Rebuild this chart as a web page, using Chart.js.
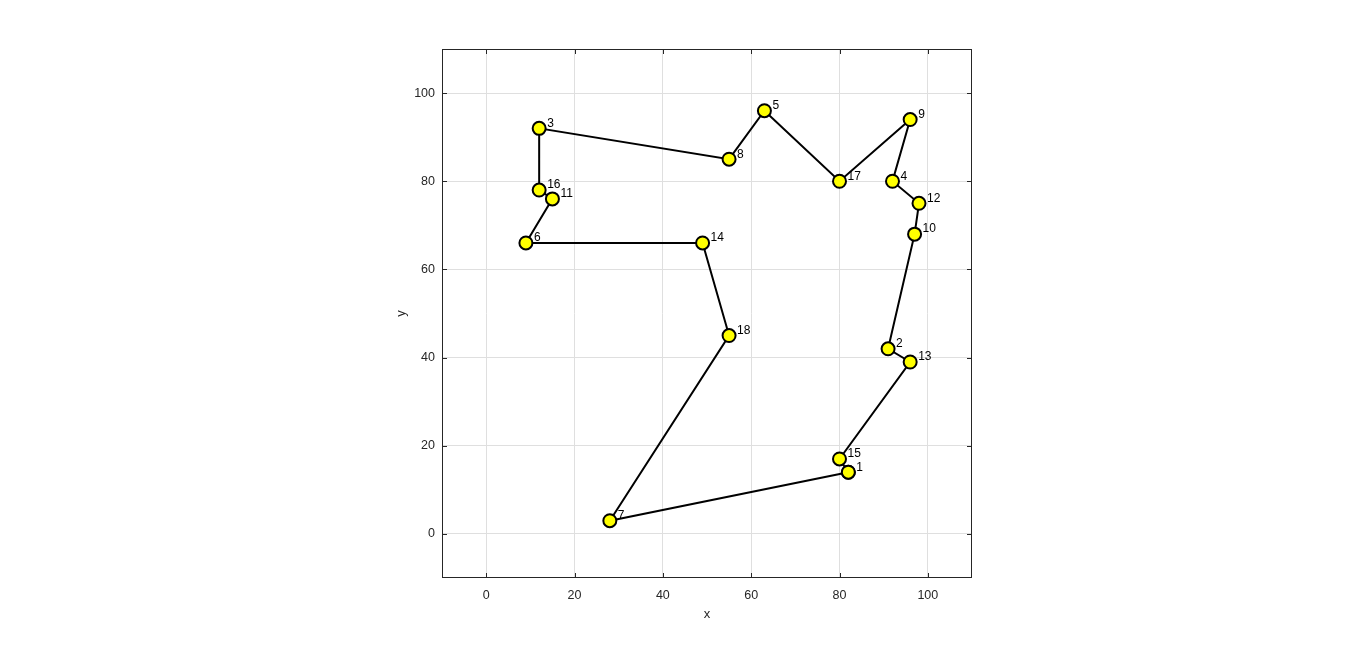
<!DOCTYPE html>
<html>
<head>
<meta charset="utf-8">
<style>
  html, body { margin:0; padding:0; background:#fff; }
  #wrap { width:1366px; height:651px; }
</style>
<script src="https://cdn.jsdelivr.net/npm/chart.js@4.4.1/dist/chart.umd.min.js"></script>
</head>
<body>
<div id="wrap"><canvas id="c" width="1366" height="651"></canvas></div>
<script>
// ─── Data ────────────────────────────────────────────────────────────────────
const cityIds = [1, 2, 3, 4, 5, 6, 7, 8, 9, 10, 11, 12, 13, 14, 15, 16, 17, 18];
const cityX   = [82, 91, 12, 92, 63, 9, 28, 55, 96, 97, 15, 98, 96, 49, 80, 12, 80, 55];
const cityY   = [14, 42, 92, 80, 96, 66, 3, 85, 94, 68, 76, 75, 39, 66, 17, 78, 80, 45];
const tour    = [1, 7, 18, 14, 6, 11, 16, 3, 8, 5, 17, 9, 4, 12, 10, 2, 13, 15, 1];
const xTicks  = [0, 20, 40, 60, 80, 100];
const yTicks  = [0, 20, 40, 60, 80, 100];

const AX = { ink:'#262626', grid:'#dfdfdf', font:"'Liberation Sans', Arial, sans-serif" };

const tourPts = tour.map(id => ({ x: cityX[id - 1], y: cityY[id - 1], id }));

// ─── Plugin: box, inward ticks, city labels ─────────────────────────────────
const boxTicks = {
  id: 'boxTicks',
  beforeDatasetsDraw(chart) {
    const { ctx, chartArea: a, scales: { x, y } } = chart;
    ctx.save();
    ctx.strokeStyle = AX.ink;
    ctx.lineWidth = 1;
    ctx.strokeRect(a.left + 0.5, a.top + 0.5, a.right - a.left - 1, a.bottom - a.top - 1);
    ctx.beginPath();
    xTicks.forEach(v => {
      const px = Math.round(x.getPixelForValue(v)) + 0.5;
      ctx.moveTo(px, a.bottom); ctx.lineTo(px, a.bottom - 5);
      ctx.moveTo(px, a.top);    ctx.lineTo(px, a.top + 5);
    });
    yTicks.forEach(v => {
      const py = Math.round(y.getPixelForValue(v)) + 0.5;
      ctx.moveTo(a.left, py);  ctx.lineTo(a.left + 5, py);
      ctx.moveTo(a.right, py); ctx.lineTo(a.right - 5, py);
    });
    ctx.stroke();
    ctx.restore();
  },
  afterDatasetsDraw(chart) {
    const { ctx, scales: { x, y } } = chart;
    ctx.save();
    ctx.fillStyle = '#000';
    ctx.font = "12px " + AX.font;
    ctx.textAlign = 'left';
    ctx.textBaseline = 'middle';
    cityIds.forEach((id, i) => {
      const px = x.getPixelForValue(cityX[i]);
      const py = y.getPixelForValue(cityY[i]);
      ctx.fillText(String(id), px + 8, py - 5);
    });
    ctx.restore();
  }
};

// ─── Chart ───────────────────────────────────────────────────────────────────
new Chart(document.getElementById('c'), {
  type: 'scatter',
  data: { datasets: [{
    data: tourPts,
    showLine: true,
    borderColor: '#000',
    borderWidth: 2,
    pointRadius: 6.5,
    pointBorderWidth: 2,
    pointBackgroundColor: '#ffff00',
    pointBorderColor: '#000',
    tension: 0
  }]},
  options: {
    responsive: false, animation: false,
    layout: { padding: { top: 49, right: 394, left: 0, bottom: 0 } },
    plugins: { legend: { display: false }, tooltip: { enabled: false } },
    scales: {
      x: {
        type: 'linear', min: -10, max: 110,
        afterBuildTicks: s => { s.ticks = xTicks.map(v => ({ value: v })); },
        afterFit: s => { s.height = 73; },
        grid: { color: AX.grid, drawTicks: false },
        border: { display: false },
        ticks: { color: AX.ink, padding: 10, font: { family: AX.font, size: 12.5 } },
        title: { display: true, text: 'x', color: AX.ink, font: { family: AX.font, size: 13 }, padding: { top: 0, bottom: 29 } }
      },
      y: {
        type: 'linear', min: -10, max: 110,
        afterBuildTicks: s => { s.ticks = yTicks.map(v => ({ value: v })); },
        afterFit: s => { s.width = 442; },
        grid: { color: AX.grid, drawTicks: false },
        border: { display: false },
        ticks: { color: AX.ink, padding: 7, font: { family: AX.font, size: 12.5 } },
        title: { display: true, text: 'y', color: AX.ink, font: { family: AX.font, size: 13 }, padding: { top: 394, bottom: 0 } }
      }
    }
  },
  plugins: [boxTicks]
});
</script>
</body>
</html>
